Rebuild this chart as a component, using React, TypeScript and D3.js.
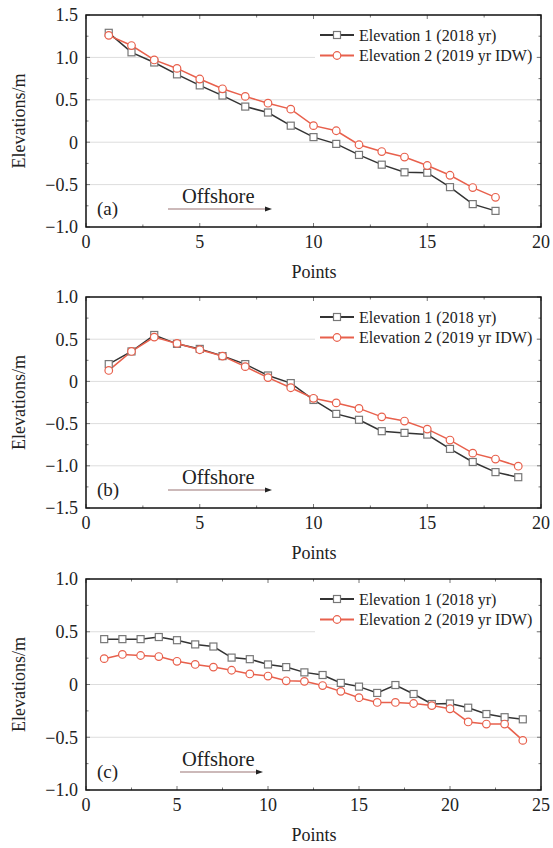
import React from "react";
import * as d3 from "d3";

// ---- Data ----
const pointsA = d3.range(1, 19);
const elev1A = [1.29, 1.06, 0.94, 0.8, 0.67, 0.55, 0.42, 0.35, 0.195, 0.06, -0.02, -0.15, -0.265, -0.355, -0.36, -0.53, -0.73, -0.81];
const elev2A = [1.26, 1.14, 0.97, 0.87, 0.745, 0.63, 0.54, 0.46, 0.39, 0.195, 0.135, -0.03, -0.11, -0.175, -0.275, -0.39, -0.535, -0.65];

const pointsB = d3.range(1, 20);
const elev1B = [0.205, 0.355, 0.55, 0.445, 0.385, 0.3, 0.205, 0.07, -0.02, -0.22, -0.385, -0.455, -0.59, -0.61, -0.63, -0.8, -0.955, -1.075, -1.135];
const elev2B = [0.13, 0.355, 0.525, 0.45, 0.375, 0.3, 0.175, 0.045, -0.075, -0.2, -0.255, -0.32, -0.42, -0.47, -0.565, -0.695, -0.85, -0.92, -1.005];

const pointsC = d3.range(1, 25);
const elev1C = [0.43, 0.43, 0.43, 0.45, 0.42, 0.38, 0.36, 0.255, 0.24, 0.19, 0.165, 0.115, 0.09, 0.015, -0.02, -0.08, -0.005, -0.09, -0.185, -0.18, -0.22, -0.28, -0.31, -0.33];
const elev2C = [0.245, 0.285, 0.275, 0.265, 0.22, 0.19, 0.165, 0.135, 0.1, 0.08, 0.035, 0.03, -0.01, -0.065, -0.125, -0.17, -0.17, -0.18, -0.2, -0.23, -0.355, -0.375, -0.375, -0.53];

const yTicksA = [1.5, 1.0, 0.5, 0, -0.5, -1.0];
const yTicksB = [1.0, 0.5, 0, -0.5, -1.0, -1.5];
const yTicksC = [1.0, 0.5, 0, -0.5, -1.0];
const xTicksAB = [0, 5, 10, 15, 20];
const xTicksC = [0, 5, 10, 15, 20, 25];

const seriesNames = ["Elevation 1 (2018 yr)", "Elevation 2 (2019 yr IDW)"];
const panelLabels = ["(a)", "(b)", "(c)"];

const FONT = "Liberation Serif, Tinos, Times New Roman, DejaVu Serif, serif";
const C1 = "#333333";
const C1M = "#777777";
const C2 = "#e8604c";

const fmtY = (v: number) => (v === 0 ? "0" : (v < 0 ? "\u2212" : "") + Math.abs(v).toFixed(1));

type PanelProps = {
  top: number;
  bottom: number;
  xs: number[];
  s1: number[];
  s2: number[];
  yTicks: number[];
  xTicks: number[];
  label: string;
  arrowX0: number;
  arrowX1: number;
};

const LEFT = 86;
const RIGHT = 541;

function Panel({ top, bottom, xs, s1, s2, yTicks, xTicks, label, arrowX0, arrowX1 }: PanelProps) {
  const xMax = xTicks[xTicks.length - 1];
  const yMax = yTicks[0];
  const yMin = yTicks[yTicks.length - 1];
  const x = d3.scaleLinear().domain([0, xMax]).range([LEFT, RIGHT]);
  const y = d3.scaleLinear().domain([yMin, yMax]).range([bottom, top]);
  const line = d3
    .line<number>()
    .x((_, i) => x(xs[i]))
    .y((d) => y(d));

  const xMinor = d3.range(0, xMax + 0.001, 2.5);
  const yMinor = d3.range(yMin, yMax + 0.001, 0.25);
  const gridVals = yTicks.slice(1, -1);
  const tickColor = "#777";
  const ay = bottom - 18;

  return (
    <g fontFamily={FONT}>
      {/* gridlines */}
      {gridVals.map((v) => (
        <line key={"g" + v} x1={LEFT} x2={RIGHT} y1={y(v)} y2={y(v)} stroke="#dddddd" strokeWidth={1} />
      ))}
      {/* legend background */}
      <rect x={315} y={top + 5} width={221} height={50} fill="#fff" />
      {/* ticks */}
      {xMinor.map((v) => {
        const major = v % 5 === 0;
        const len = major ? 4 : 2.5;
        return (
          <g key={"xt" + v}>
            <line x1={x(v)} x2={x(v)} y1={bottom} y2={bottom - len} stroke={tickColor} strokeWidth={1} />
            <line x1={x(v)} x2={x(v)} y1={top} y2={top + len} stroke={tickColor} strokeWidth={1} />
          </g>
        );
      })}
      {yMinor.map((v) => {
        const major = Math.abs((v * 2) % 1) < 1e-6;
        const len = major ? 4 : 2.5;
        return (
          <g key={"yt" + v}>
            <line x1={LEFT} x2={LEFT + len} y1={y(v)} y2={y(v)} stroke={tickColor} strokeWidth={1} />
            <line x1={RIGHT} x2={RIGHT - len} y1={y(v)} y2={y(v)} stroke={tickColor} strokeWidth={1} />
          </g>
        );
      })}
      {/* frame */}
      <rect x={LEFT} y={top} width={RIGHT - LEFT} height={bottom - top} fill="none" stroke="#111" strokeWidth={1.5} />
      {/* tick labels */}
      {yTicks.map((v) => (
        <text key={"yl" + v} x={78} y={y(v)} dy="0.35em" textAnchor="end" fontSize={18} fill="#222">
          {fmtY(v)}
        </text>
      ))}
      {xTicks.map((v) => (
        <text key={"xl" + v} x={x(v)} y={bottom + 21} textAnchor="middle" fontSize={18} fill="#222">
          {v}
        </text>
      ))}
      <text x={314} y={bottom + 51} textAnchor="middle" fontSize={18} fill="#222">
        Points
      </text>
      <text
        transform={`translate(25,${(top + bottom) / 2}) rotate(-90)`}
        textAnchor="middle"
        fontSize={18}
        fill="#222"
      >
        Elevations/m
      </text>
      {/* series */}
      <path d={line(s1) || ""} fill="none" stroke={C1} strokeWidth={1.5} />
      <path d={line(s2) || ""} fill="none" stroke={C2} strokeWidth={1.5} />
      {s1.map((v, i) => (
        <rect key={"m1" + i} x={x(xs[i]) - 3.5} y={y(v) - 3.5} width={7} height={7} fill="#fff" stroke={C1M} strokeWidth={1.2} />
      ))}
      {s2.map((v, i) => (
        <circle key={"m2" + i} cx={x(xs[i])} cy={y(v)} r={3.8} fill="#fff" stroke={C2} strokeWidth={1.2} />
      ))}
      {/* legend */}
      {[0, 1].map((i) => {
        const ly = top + 20 + i * 20.5;
        return (
          <g key={"lg" + i}>
            <line x1={320} x2={354} y1={ly} y2={ly} stroke={i === 0 ? C1 : C2} strokeWidth={2.2} />
            {i === 0 ? (
              <rect x={333.5} y={ly - 3.5} width={7} height={7} fill="#fff" stroke={C1M} strokeWidth={1.2} />
            ) : (
              <circle cx={337} cy={ly} r={3.8} fill="#fff" stroke={C2} strokeWidth={1.2} />
            )}
            <text x={359} y={ly} dy="0.35em" fontSize={16} fill="#222">
              {seriesNames[i]}
            </text>
          </g>
        );
      })}
      {/* panel label and offshore arrow */}
      <text x={97} y={bottom - 19} dy="0.35em" fontSize={19} fill="#222">
        {label}
      </text>
      <text x={182} y={bottom - 31} dy="0.35em" fontSize={20.5} fill="#222">
        Offshore
      </text>
      <line x1={arrowX0} x2={arrowX1 - 6} y1={ay} y2={ay} stroke="#9a7474" strokeWidth={1.2} />
      <path d={`M${arrowX1},${ay} L${arrowX1 - 7},${ay - 2.5} L${arrowX1 - 7},${ay + 2.5} Z`} fill="#222" />
    </g>
  );
}

export default function App() {
  return (
    <svg
      width={553}
      height={848}
      style={{ position: "absolute", left: 0, top: 0, background: "#fff" }}
    >
      <rect width={553} height={848} fill="#fff" />
      <Panel top={15} bottom={227} xs={pointsA} s1={elev1A} s2={elev2A} yTicks={yTicksA} xTicks={xTicksAB} label={panelLabels[0]} arrowX0={168} arrowX1={272} />
      <Panel top={297} bottom={508} xs={pointsB} s1={elev1B} s2={elev2B} yTicks={yTicksB} xTicks={xTicksAB} label={panelLabels[1]} arrowX0={168} arrowX1={272} />
      <Panel top={579} bottom={790} xs={pointsC} s1={elev1C} s2={elev2C} yTicks={yTicksC} xTicks={xTicksC} label={panelLabels[2]} arrowX0={180} arrowX1={263} />
    </svg>
  );
}
